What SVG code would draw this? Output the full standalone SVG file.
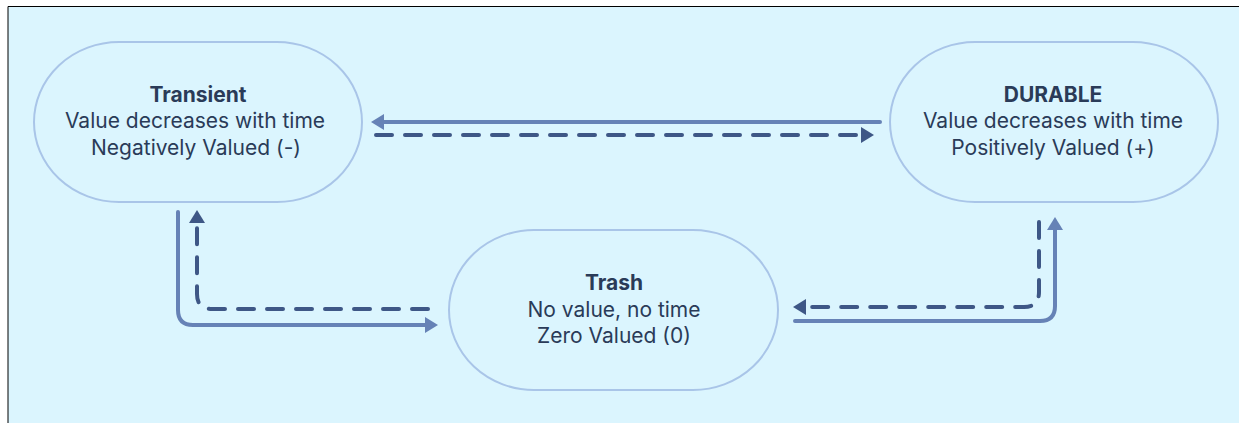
<svg xmlns="http://www.w3.org/2000/svg" width="1239" height="423" viewBox="0 0 1239 423">
<style>
.bg{fill:#dbf5fe}
.node{fill:#dbf5fe;stroke:#a9c5e8;stroke-width:2}
.t{font-family:Inter,"Liberation Sans",sans-serif;font-size:21px;fill:#2a3b58;text-anchor:middle}
.b{font-weight:bold}
.solid{fill:none;stroke:#6682b6;stroke-width:4;stroke-linecap:round}
.dash{fill:none;stroke:#3e5786;stroke-width:4;stroke-linecap:round;stroke-dasharray:16 13}
</style>
<defs>
<marker id="ahS" markerUnits="userSpaceOnUse" markerWidth="16" markerHeight="16" refX="3" refY="8" orient="auto"><path d="M0,0 L13,8 L0,16 z" fill="#6682b6"/></marker>
<marker id="ahD" markerUnits="userSpaceOnUse" markerWidth="16" markerHeight="16" refX="3" refY="8" orient="auto"><path d="M0,0 L13,8 L0,16 z" fill="#3e5786"/></marker>
</defs>
<rect x="0" y="0" width="1239" height="423" fill="#ffffff"/>
<rect class="bg" x="8" y="6" width="1231" height="417"/>
<path d="M8,423 V6.5 H1239" fill="none" stroke="#000" stroke-width="1"/>
<g id="connectors">
<path class="solid" d="M880,122 H381" marker-end="url(#ahS)"/>
<path class="dash" d="M376,135 H864" marker-end="url(#ahD)"/>
<path class="solid" d="M178,212 V310 Q178,325 193,325 H428" marker-end="url(#ahS)"/>
<path class="dash" d="M428,309 H212 Q197,309 197,294 V220" marker-end="url(#ahD)"/>
<path class="solid" d="M795,321 H1040 Q1055,321 1055,306 V227" marker-end="url(#ahS)"/>
<path class="dash" d="M1039,222 V292 Q1039,307 1024,307 H803" marker-end="url(#ahD)"/>
</g>
<g id="transient">
<rect class="node" x="34" y="42" width="328" height="160" rx="85" ry="80"/>
<text class="t b" x="198" y="102">Transient</text>
<text class="t" x="195" y="128">Value decreases with time</text>
<text class="t" x="196" y="155">Negatively Valued (-)</text>
</g>
<g id="durable">
<rect class="node" x="890" y="42" width="328" height="160" rx="85" ry="80"/>
<text class="t b" x="1053" y="102">DURABLE</text>
<text class="t" x="1053" y="128">Value decreases with time</text>
<text class="t" x="1053" y="155">Positively Valued (+)</text>
</g>
<g id="trash">
<rect class="node" x="449" y="230" width="329" height="160" rx="85" ry="80"/>
<text class="t b" x="614" y="290">Trash</text>
<text class="t" x="614" y="317">No value, no time</text>
<text class="t" x="614" y="343">Zero Valued (0)</text>
</g>
</svg>
